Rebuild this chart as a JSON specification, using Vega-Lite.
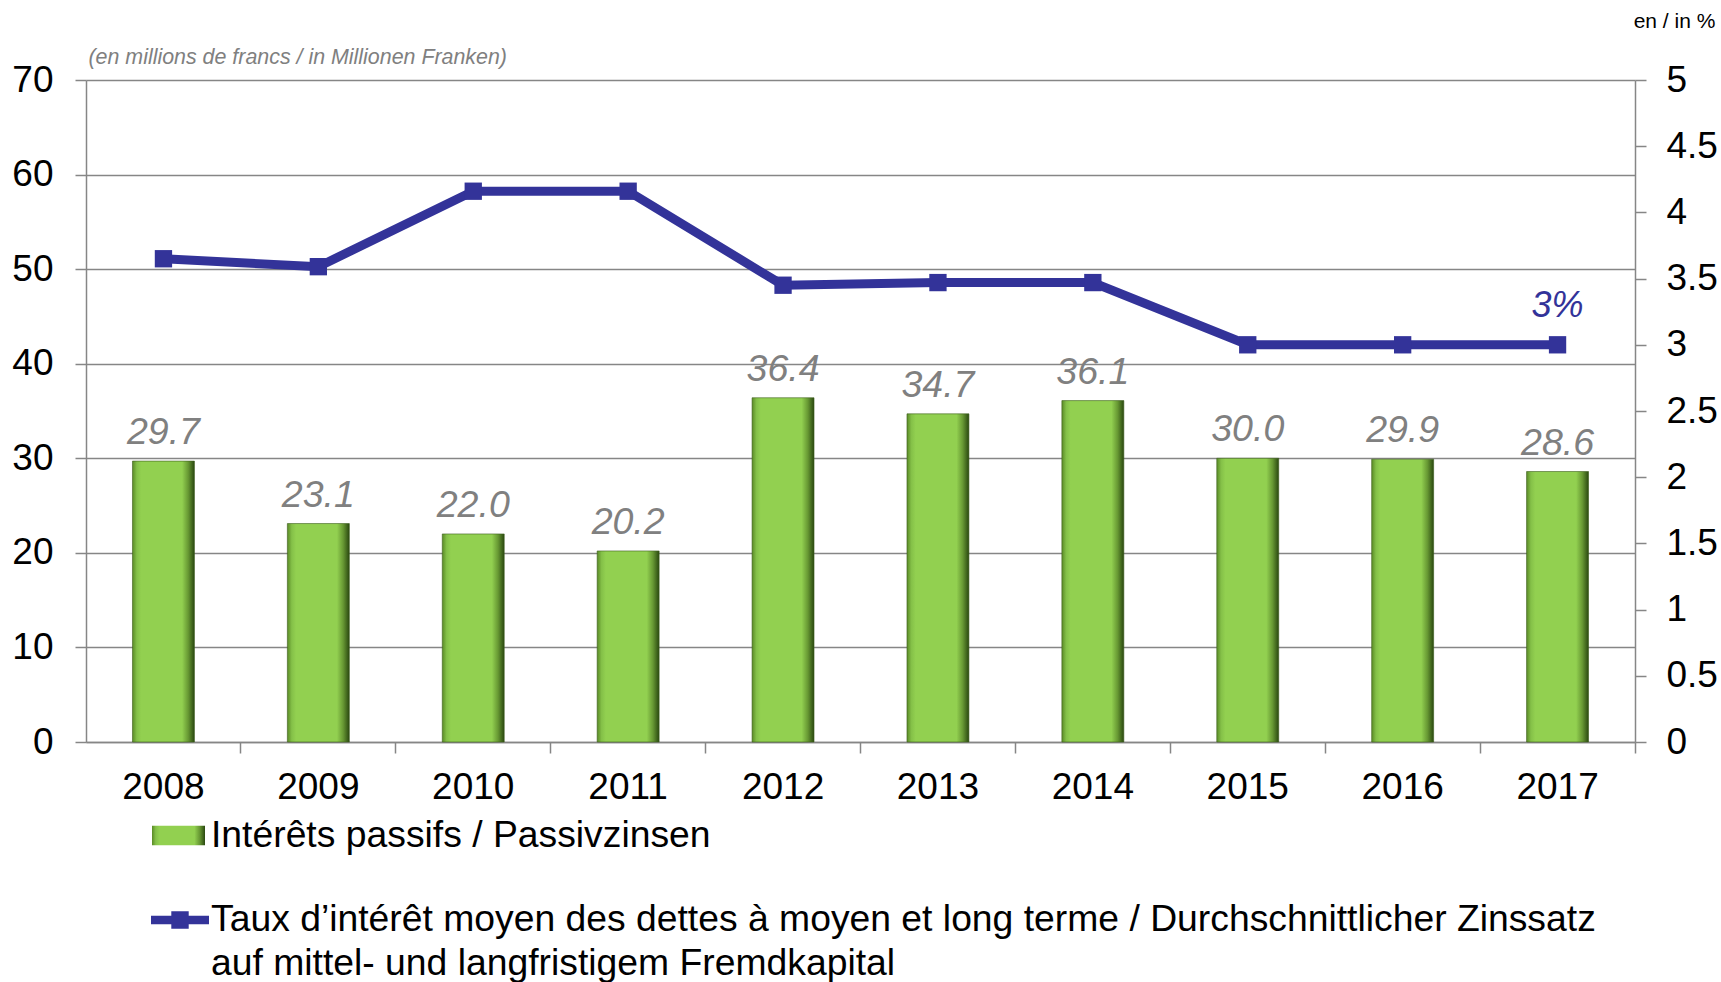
{
  "$schema": "https://vega.github.io/schema/vega-lite/v6.json",
  "width": 1549,
  "height": 662,
  "autosize": {"type": "none"},
  "padding": {"left": 86, "top": 80, "right": 86, "bottom": 240},
  "background": "white",
  "config": {
    "view": {"stroke": null},
    "font": "Liberation Sans",
    "axis": {
      "labelFont": "Liberation Sans",
      "labelFontSize": 37,
      "labelColor": "black",
      "domainColor": "#868686",
      "domainWidth": 1.5,
      "tickColor": "#868686",
      "tickWidth": 1.5,
      "tickSize": 11,
      "gridColor": "#868686",
      "gridWidth": 1.5
    },
    "legend": {
      "orient": "none",
      "padding": 0,
      "labelFont": "Liberation Sans",
      "labelFontSize": 37.3,
      "labelColor": "black",
      "labelLimit": 1650,
      "title": null
    }
  },
  "data": {
    "values": [
      {"year": 2008, "interest": 29.7, "rate": 3.65},
      {"year": 2009, "interest": 23.1, "rate": 3.59},
      {"year": 2010, "interest": 22.0, "rate": 4.16},
      {"year": 2011, "interest": 20.2, "rate": 4.16},
      {"year": 2012, "interest": 36.4, "rate": 3.45},
      {"year": 2013, "interest": 34.7, "rate": 3.47},
      {"year": 2014, "interest": 36.1, "rate": 3.47},
      {"year": 2015, "interest": 30.0, "rate": 3.0},
      {"year": 2016, "interest": 29.9, "rate": 3.0},
      {"year": 2017, "interest": 28.6, "rate": 3.0}
    ]
  },
  "encoding": {
    "x": {
      "field": "year",
      "type": "nominal",
      "scale": {"paddingInner": 0.6, "paddingOuter": 0.3},
      "axis": {
        "title": null,
        "labelAngle": 0,
        "bandPosition": 1.75,
        "tickExtra": false,
        "labelPadding": 16,
        "grid": false
      }
    }
  },
  "layer": [
    {
      "layer": [
        {
          "mark": {
            "type": "bar",
            "stroke": "#3d5e1c",
            "strokeWidth": 0.6,
            "color": {
              "gradient": "linear",
              "x1": 0, "x2": 1, "y1": 0, "y2": 0,
              "stops": [
                {"offset": 0, "color": "#5a8a26"},
                {"offset": 0.07, "color": "#84c048"},
                {"offset": 0.14, "color": "#92d050"},
                {"offset": 0.8, "color": "#92d050"},
                {"offset": 0.9, "color": "#679833"},
                {"offset": 1, "color": "#2a4810"}
              ]
            }
          },
          "encoding": {
            "y": {
              "field": "interest",
              "type": "quantitative",
              "scale": {"domain": [0, 70]},
              "axis": {
                "values": [0, 10, 20, 30, 40, 50, 60, 70],
                "grid": true,
                "labelPadding": 22,
                "title": "(en millions de francs / in Millionen Franken)",
                "titleAngle": 0,
                "titleX": 2,
                "titleY": -23,
                "titleAlign": "left",
                "titleBaseline": "middle",
                "titleFont": "Liberation Sans",
                "titleFontSize": 21.4,
                "titleFontStyle": "italic",
                "titleFontWeight": "normal",
                "titleColor": "#808080"
              }
            },
            "opacity": {
              "datum": "Intérêts passifs / Passivzinsen",
              "type": "nominal",
              "scale": {"type": "ordinal", "range": [1]},
              "legend": {
                "legendX": 66,
                "legendY": 729,
                "symbolType": "M-1,-0.37H1V0.37H-1Z",
                "symbolSize": 2809,
                "symbolStrokeWidth": 0,
                "symbolFillColor": "#7fb843",
                "labelOffset": 6,
                "encode": {
                  "symbols": {
                    "update": {
                      "fill": {
                        "value": {
                          "gradient": "linear",
                          "x1": 0, "x2": 0, "y1": 0, "y2": 1,
                          "stops": [
                            {"offset": 0, "color": "#9ad85a"},
                            {"offset": 0.3, "color": "#92d050"},
                            {"offset": 0.7, "color": "#6a9a36"},
                            {"offset": 1, "color": "#3d5e1c"}
                          ]
                        }
                      },
                      "opacity": {"value": 1}
                    }
                  }
                }
              }
            }
          }
        },
        {
          "mark": {
            "type": "text",
            "baseline": "alphabetic",
            "dy": -17,
            "font": "Liberation Sans",
            "fontSize": 37.5,
            "fontStyle": "italic",
            "color": "#808080"
          },
          "encoding": {
            "y": {"field": "interest", "type": "quantitative"},
            "text": {"field": "interest", "type": "quantitative", "format": ".1f"}
          }
        }
      ]
    },
    {
      "layer": [
        {
          "mark": {"type": "line", "strokeWidth": 9},
          "encoding": {
            "y": {
              "field": "rate",
              "type": "quantitative",
              "scale": {"domain": [0, 5]},
              "axis": {
                "orient": "right",
                "values": [0, 0.5, 1, 1.5, 2, 2.5, 3, 3.5, 4, 4.5, 5],
                "format": "~g",
                "grid": false,
                "labelPadding": 20,
                "title": "en / in %",
                "titleAngle": 0,
                "titleX": 39,
                "titleY": -59,
                "titleAlign": "center",
                "titleBaseline": "middle",
                "titleFont": "Liberation Sans",
                "titleFontSize": 21,
                "titleFontWeight": "normal",
                "titleColor": "black"
              }
            },
            "stroke": {
              "datum": "Taux d’intérêt moyen des dettes à moyen et long terme / Durchschnittlicher Zinssatz|auf mittel- und langfristigem Fremdkapital",
              "type": "nominal",
              "scale": {"range": ["#333399"]},
              "legend": {
                "legendX": 65,
                "legendY": 811,
                "symbolType": "M-1,-0.15H-0.3V-0.3H0.3V-0.15H1V0.15H0.3V0.3H-0.3V0.15H-1Z",
                "symbolSize": 3364,
                "labelOffset": 2,
                "labelExpr": "split(datum.label, '|')",
                "encode": {
                  "symbols": {"update": {"fill": {"value": "#333399"}, "strokeWidth": {"value": 0}, "opacity": {"value": 1}}},
                  "labels": {"update": {"lineHeight": {"value": 44}}}
                }
              }
            }
          }
        },
        {
          "mark": {"type": "point", "shape": "square", "size": 300, "filled": true, "color": "#333399", "opacity": 1},
          "encoding": {
            "y": {"field": "rate", "type": "quantitative"}
          }
        },
        {
          "transform": [{"filter": "datum.year == 2017"}],
          "mark": {
            "type": "text",
            "text": "3%",
            "baseline": "alphabetic",
            "dy": -28,
            "font": "Liberation Sans",
            "fontSize": 36,
            "fontStyle": "italic",
            "color": "#333399"
          },
          "encoding": {
            "y": {"field": "rate", "type": "quantitative"}
          }
        }
      ]
    }
  ],
  "resolve": {"scale": {"y": "independent"}}
}
